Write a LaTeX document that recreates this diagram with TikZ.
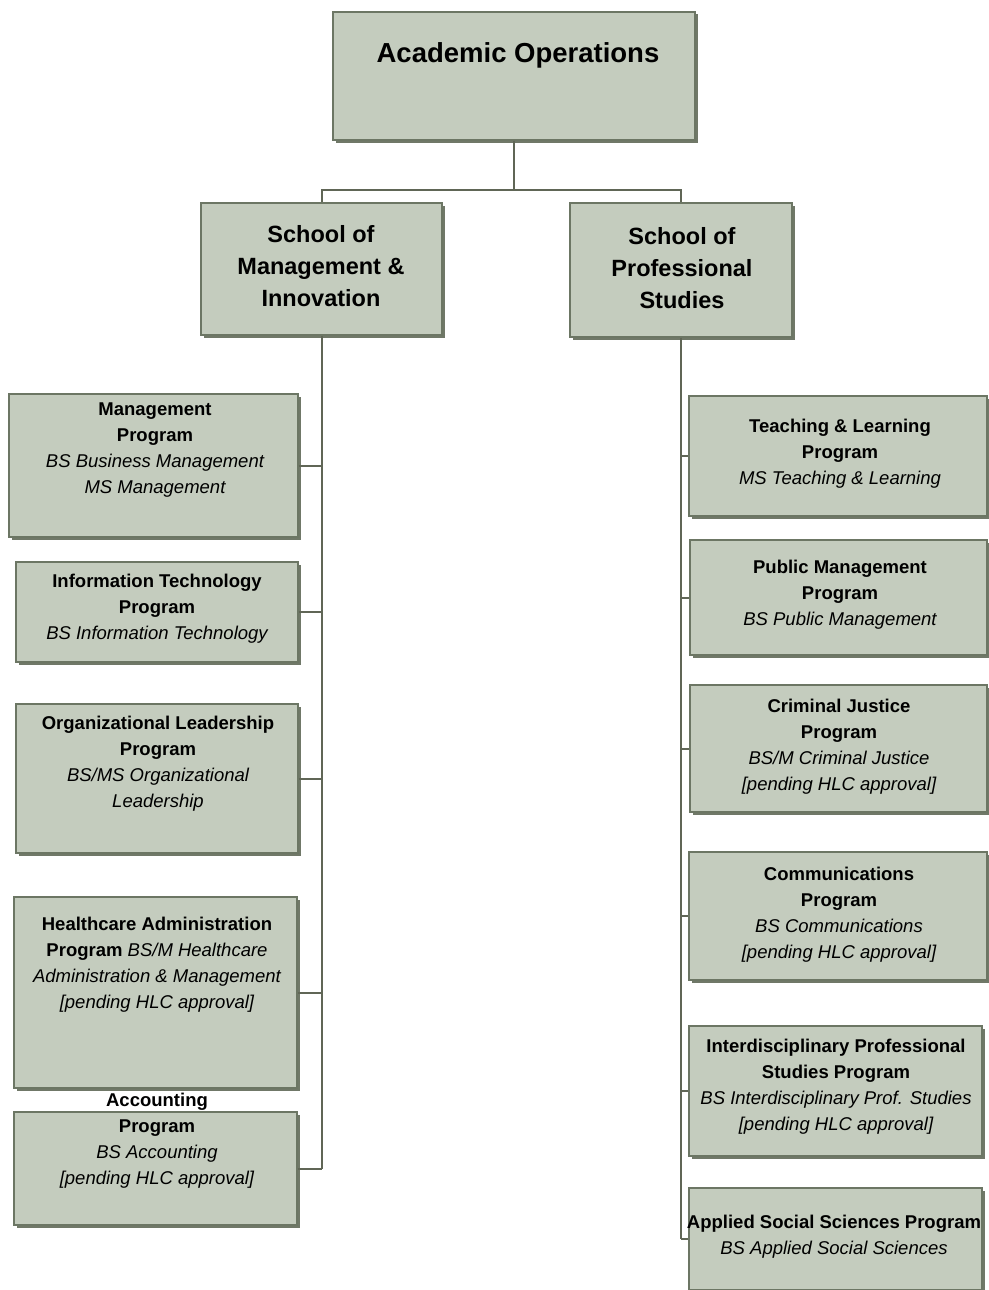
\documentclass[tikz,border=0pt]{standalone}
\usepackage{fontspec}
\setmainfont{Liberation Sans}
\usetikzlibrary{shadows}
\definecolor{boxfill}{RGB}{196,204,190}
\definecolor{boxline}{RGB}{108,118,100}
\definecolor{boxshade}{RGB}{112,120,104}
\definecolor{linkline}{RGB}{96,102,86}
\newcommand{\degline}[1]{{\mdseries\itshape #1}}
\begin{document}
\begin{tikzpicture}[x=1pt,y=1pt,yscale=-1,
  box/.style={draw=boxline,line width=1.2pt,fill=boxfill,inner sep=0pt,
    drop shadow={shadow xshift=2.5pt,shadow yshift=-2.5pt,fill=boxshade,opacity=1}},
  txt/.style={align=center,inner sep=0pt,font=\bfseries\fontsize{18.5}{26}\selectfont},
  link/.style={draw=linkline,line width=2pt}]
\useasboundingbox (0,0) rectangle (988,1290);
% top and schools
\node[box,minimum width=362pt,minimum height=128pt] (ops) at (514,76) {};
\node[txt,font=\bfseries\fontsize{27.5}{32}\selectfont] (ops-txt) at (518,55) {Academic Operations};
\node[box,minimum width=241pt,minimum height=132pt] (sml) at (321.5,269) {};
\node[txt,font=\bfseries\fontsize{23.5}{32}\selectfont] (sml-txt) at (321,266) {School of\\Management \&\\Innovation};
\node[box,minimum width=222pt,minimum height=134pt] (spr) at (681,270) {};
\node[txt,font=\bfseries\fontsize{23.5}{32}\selectfont] (spr-txt) at (682,268) {School of\\Professional\\Studies};
% left programs
\node[box,minimum width=289pt,minimum height=143pt] (mgmt) at (153.5,465.5) {};
\node[txt] (mgmt-txt) at (155,450) {Management\\Program\\\degline{BS Business Management}\\\degline{MS Management}};
\node[box,minimum width=282pt,minimum height=100pt] (it) at (157,612) {};
\node[txt] (it-txt) at (157,608.5) {Information Technology\\Program\\\degline{BS Information Technology}};
\node[box,minimum width=282pt,minimum height=149pt] (ol) at (157,778.5) {};
\node[txt] (ol-txt) at (158,763.5) {Organizational Leadership\\Program\\\degline{BS/MS Organizational}\\\degline{Leadership}};
\node[box,minimum width=283pt,minimum height=191pt] (ha) at (155.5,992.5) {};
\node[txt] (ha-txt) at (157,964.5) {Healthcare Administration\\Program \degline{BS/M Healthcare}\\\degline{Administration \& Management}\\\degline{[pending HLC approval]}};
\node[box,minimum width=283pt,minimum height=113pt] (acct) at (155.5,1168.5) {};
\node[txt] (acct-txt) at (157,1141) {Accounting\\Program\\\degline{BS Accounting}\\\degline{[pending HLC approval]}};
% right programs
\node[box,minimum width=298pt,minimum height=120pt] (tl) at (838,456) {};
\node[txt] (tl-txt) at (840,453.5) {Teaching \& Learning\\Program\\\degline{MS Teaching \& Learning}};
\node[box,minimum width=297pt,minimum height=115pt] (pm) at (838.5,597.5) {};
\node[txt] (pm-txt) at (840,594.5) {Public Management\\Program\\\degline{BS Public Management}};
\node[box,minimum width=297pt,minimum height=127pt] (cj) at (838.5,748.5) {};
\node[txt] (cj-txt) at (839,746.5) {Criminal Justice\\Program\\\degline{BS/M Criminal Justice}\\\degline{[pending HLC approval]}};
\node[box,minimum width=298pt,minimum height=128pt] (comm) at (838,916) {};
\node[txt] (comm-txt) at (839,914.5) {Communications\\Program\\\degline{BS Communications}\\\degline{[pending HLC approval]}};
\node[box,minimum width=293pt,minimum height=130pt] (ips) at (835.5,1091) {};
\node[txt] (ips-txt) at (836,1086.5) {Interdisciplinary Professional\\Studies Program\\\degline{BS Interdisciplinary Prof. Studies}\\\degline{[pending HLC approval]}};
\node[box,minimum width=293pt,minimum height=102pt] (ass) at (835.5,1239) {};
\node[txt] (ass-txt) at (834,1237) {Applied Social Sciences Program\\\degline{BS Applied Social Sciences}};
% connectors
\coordinate (split) at (514,190);
\draw[link] (ops.south) -- (split);
\draw[link] (sml.north) |- (split) -| (spr.north);
\draw[link] (sml.south) -- (sml.south |- acct.east);
\foreach \b in {mgmt,it,ol,ha,acct}
  \draw[link] (\b.east) -- (\b.east -| sml.south);
\draw[link] (spr.south) -- (spr.south |- ass.west);
\foreach \b in {tl,pm,cj,comm,ips,ass}
  \draw[link] (\b.west) -- (\b.west -| spr.south);
\end{tikzpicture}
\end{document}
